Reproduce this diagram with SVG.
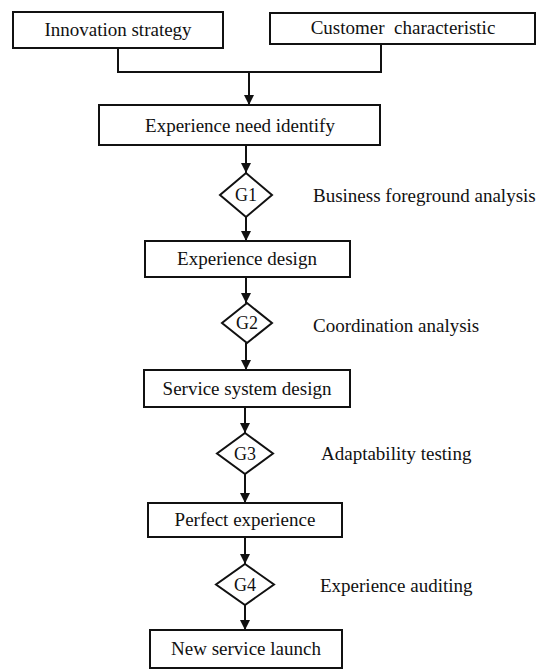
<svg xmlns="http://www.w3.org/2000/svg" width="537" height="670" viewBox="0 0 537 670">
  <style>
    .box { fill: #fff; stroke: #111; stroke-width: 2; }
    .dia { fill: #fff; stroke: #111; stroke-width: 2; }
    .lbl { font-family: "Liberation Serif", "Times New Roman", serif; font-size: 19px; fill: #111; text-anchor: middle; white-space: pre; }
    .side { font-family: "Liberation Serif", "Times New Roman", serif; font-size: 19px; fill: #111; }
    .gl { font-family: "Liberation Serif", "Times New Roman", serif; font-size: 18px; fill: #111; text-anchor: middle; }
    .wire { fill: none; stroke: #111; stroke-width: 2; }
  </style>
  <defs>
    <marker id="arrow" viewBox="0 0 10 10" refX="10" refY="5" markerWidth="10" markerHeight="10" markerUnits="userSpaceOnUse" orient="auto">
      <path d="M0,0 L10,5 L0,10 Z" fill="#111"/>
    </marker>
  </defs>
  <rect width="537" height="670" fill="#fff"/>

  <g id="connectors">
    <polyline class="wire" points="118,48 118,72 381,72 381,44"/>
    <line class="wire" x1="249" y1="72" x2="249" y2="105" marker-end="url(#arrow)"/>
    <line class="wire" x1="246" y1="145" x2="246" y2="173" marker-end="url(#arrow)"/>
    <line class="wire" x1="246" y1="217" x2="246" y2="241" marker-end="url(#arrow)"/>
    <line class="wire" x1="246" y1="277" x2="246" y2="303" marker-end="url(#arrow)"/>
    <line class="wire" x1="246" y1="343" x2="246" y2="370" marker-end="url(#arrow)"/>
    <line class="wire" x1="245" y1="407" x2="245" y2="433" marker-end="url(#arrow)"/>
    <line class="wire" x1="245" y1="474" x2="245" y2="503" marker-end="url(#arrow)"/>
    <line class="wire" x1="245" y1="537" x2="245" y2="564" marker-end="url(#arrow)"/>
    <line class="wire" x1="245" y1="605" x2="245" y2="630" marker-end="url(#arrow)"/>
  </g>

  <g id="innovation-strategy">
    <rect class="box" x="13" y="12" width="210" height="36"/>
    <text class="lbl" x="118" y="36">Innovation strategy</text>
  </g>
  <g id="customer-characteristic">
    <rect class="box" x="270" y="13" width="265" height="31"/>
    <text class="lbl" x="403" y="34">Customer  characteristic</text>
  </g>
  <g id="experience-need">
    <rect class="box" x="99" y="105" width="281" height="40"/>
    <text class="lbl" x="240" y="132">Experience need identify</text>
  </g>
  <g id="g1">
    <polygon class="dia" points="246,173 272,195 246,217 220,195"/>
    <text class="gl" x="246" y="201">G1</text>
    <text class="side" x="313" y="202">Business foreground analysis</text>
  </g>
  <g id="experience-design">
    <rect class="box" x="145" y="241" width="205" height="36"/>
    <text class="lbl" x="247" y="265">Experience design</text>
  </g>
  <g id="g2">
    <polygon class="dia" points="247,303 272,323 247,343 222,323"/>
    <text class="gl" x="247" y="329">G2</text>
    <text class="side" x="313" y="332">Coordination analysis</text>
  </g>
  <g id="service-system-design">
    <rect class="box" x="144" y="370" width="206" height="37"/>
    <text class="lbl" x="247" y="395">Service system design</text>
  </g>
  <g id="g3">
    <polygon class="dia" points="245,433 273,453.5 245,474 217,453.5"/>
    <text class="gl" x="245" y="460">G3</text>
    <text class="side" x="321" y="460">Adaptability testing</text>
  </g>
  <g id="perfect-experience">
    <rect class="box" x="148" y="503" width="194" height="34"/>
    <text class="lbl" x="245" y="526">Perfect experience</text>
  </g>
  <g id="g4">
    <polygon class="dia" points="245,564 274,584.5 245,605 216,584.5"/>
    <text class="gl" x="245" y="591">G4</text>
    <text class="side" x="320" y="592">Experience auditing</text>
  </g>
  <g id="new-service-launch">
    <rect class="box" x="150" y="630" width="192" height="38"/>
    <text class="lbl" x="246" y="655">New service launch</text>
  </g>
</svg>
